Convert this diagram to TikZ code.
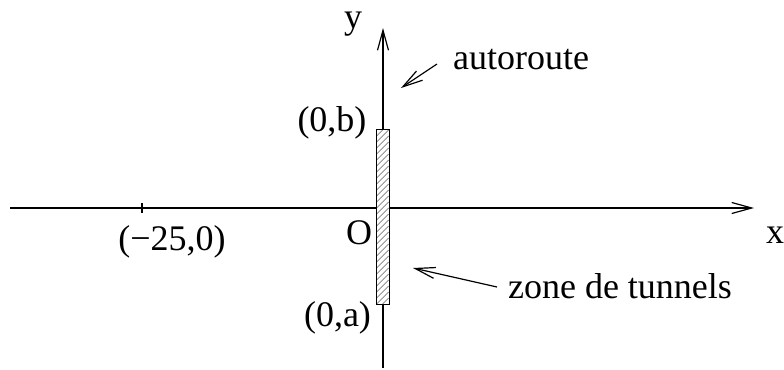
\documentclass[tikz,border=0pt]{standalone}
\usepackage{fontspec}
\setmainfont{Liberation Serif}
\usetikzlibrary{arrows.meta}
\begin{document}
\begin{tikzpicture}[x=0.5pt,y=-0.5pt, line width=0.6pt,
  font=\fontsize{18}{21}\selectfont,
  tip/.style={-{Straight Barb[length=10pt,width=5.5pt,line width=0.6pt]}},
  lbl/.style={inner sep=0pt, anchor=base},
  hatch/.style={gray, line width=0.35pt}]
\useasboundingbox (0,0) rectangle (784,370);
\coordinate (xl) at (10,208);
\coordinate (xr) at (754,208);
\coordinate (yb) at (383,368);
\coordinate (yt) at (383,28);
\draw[tip] (xl) -- (xr);
\draw[tip] (yb) -- (yt);
\node[fill=white, minimum width=6pt, minimum height=87pt, inner sep=0pt] (zone) at (382.7,217) {};
\begin{scope}
  \clip (zone.south west) rectangle (zone.north east);
  \foreach \k in {0,...,32} {
    \draw[hatch] (376.7,{130+6*\k}) -- (388.7,{118+6*\k});
  }
\end{scope}
\draw[line width=0.5pt] (zone.south west) rectangle (zone.north east);
\coordinate (tickt) at (142,203);
\coordinate (tickb) at (142,213);
\draw (tickt) -- (tickb);
\node[lbl] (m25) at (172,250.5) {(−25,0)};
\node[lbl] (xlab) at (775,243) {x};
\node[lbl] (ylab) at (353,28) {y};
\node[lbl] (O) at (359,244) {O};
\node[lbl] (b) at (332,131.5) {(0,b)};
\node[lbl] (a) at (337.5,326.5) {(0,a)};
\node[lbl] (auto) at (521,69) {autoroute};
\node[lbl] (tun) at (620,298) {zone de tunnels};
\coordinate (as) at (437,64);
\coordinate (at) at (401,88);
\coordinate (ts) at (497,287);
\coordinate (tt) at (413,268);
\draw[tip] (as) -- (at);
\draw[tip] (ts) -- (tt);
\end{tikzpicture}
\end{document}
